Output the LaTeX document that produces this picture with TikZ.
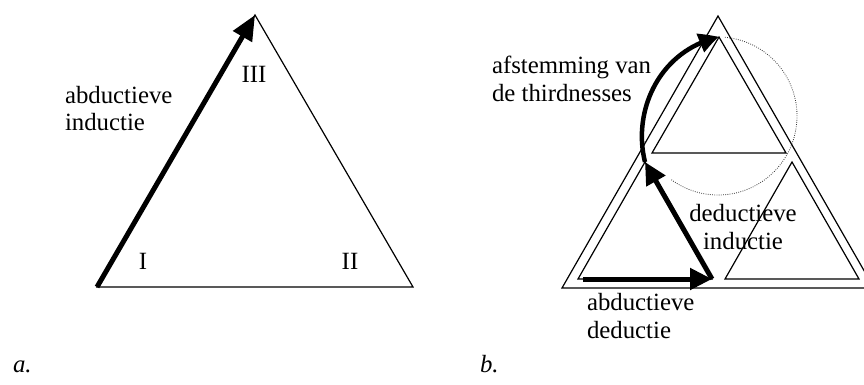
\documentclass[tikz,border=0pt]{standalone}
\usepackage{fontspec}
\setmainfont{Liberation Serif}
\usetikzlibrary{arrows.meta,bending}
\begin{document}
\begin{tikzpicture}[x=1pt,y=-1pt,
  edge/.style={line width=1.2pt, line join=miter},
  lbl/.style={inner sep=0pt, outer sep=0pt, font=\fontsize{24.8}{28}\selectfont},
  bigarrow/.style={line width=5pt, -{Triangle[length=25pt,width=21pt]}},
  midarrow/.style={line width=5pt, -{Triangle[length=22pt,width=21pt]}},
  curvearrow/.style={line width=4.5pt, -{Triangle[length=20pt,width=19pt,bend]}},
  dotcircle/.style={line width=0.8pt, dash pattern=on 0.8pt off 1.4pt, black!80}
]
\useasboundingbox (0,0) rectangle (864,385);

% ---------- a. ----------
\coordinate (A1) at (97,287);
\coordinate (A2) at (413,287);
\coordinate (A3) at (255,15);
\draw[edge] (A1) -- (A3) -- (A2) -- cycle;
\draw[bigarrow] (A1) -- (A3);
\node[lbl, anchor=base west, align=left] (abdind) at (65,131) {abductieve\\inductie};
\node[lbl, anchor=base] (III) at (254,83) {III};
\node[lbl, anchor=base] (I) at (143,269) {I};
\node[lbl, anchor=base] (II) at (350,269) {II};
\node[lbl, anchor=base west, font=\fontsize{24.8}{28}\selectfont\itshape] (la) at (13,372) {a.};

% ---------- b. ----------
\coordinate (O1) at (562,288);
\coordinate (O2) at (874,288);
\coordinate (O3) at (718,16);
\draw[edge] (O1) -- (O3) -- (O2) -- cycle;
% top inner triangle
\coordinate (T1) at (652,153);
\coordinate (T2) at (786,153);
\coordinate (T3) at (719,37);
\draw[edge] (T1) -- (T2) -- (T3) -- cycle;
% left inner triangle
\coordinate (L1) at (578,279);
\coordinate (L2) at (712,279);
\coordinate (L3) at (645,162);
\draw[edge] (L1) -- (L2) -- (L3) -- cycle;
% right inner triangle
\coordinate (R1) at (725,279);
\coordinate (R2) at (859,279);
\coordinate (R3) at (792,162);
\draw[edge] (R1) -- (R2) -- (R3) -- cycle;

% dotted circle part
\coordinate (C) at (718,116);
\draw[dotcircle] ([shift={(85:79pt)}]C) arc[start angle=85, end angle=-127, radius=79pt];

% arrows
\coordinate (S) at (583,279);
\draw[midarrow] (S) -- (L2);
\draw[midarrow] (L2) -- (L3);
\draw[curvearrow] (L3) .. controls (632,110) and (660,50) .. (T3);

\node[lbl, anchor=base west, align=left] (afst) at (492,102) {afstemming van\\de thirdnesses};
\node[lbl, anchor=base, align=center] (dedind) at (743,249) {deductieve\\inductie};
\node[lbl, anchor=base west, align=left] (abdded) at (587,338) {abductieve\\deductie};
\node[lbl, anchor=base west, font=\fontsize{24.8}{28}\selectfont\itshape] (lb) at (480,372) {b.};
\end{tikzpicture}
\end{document}
